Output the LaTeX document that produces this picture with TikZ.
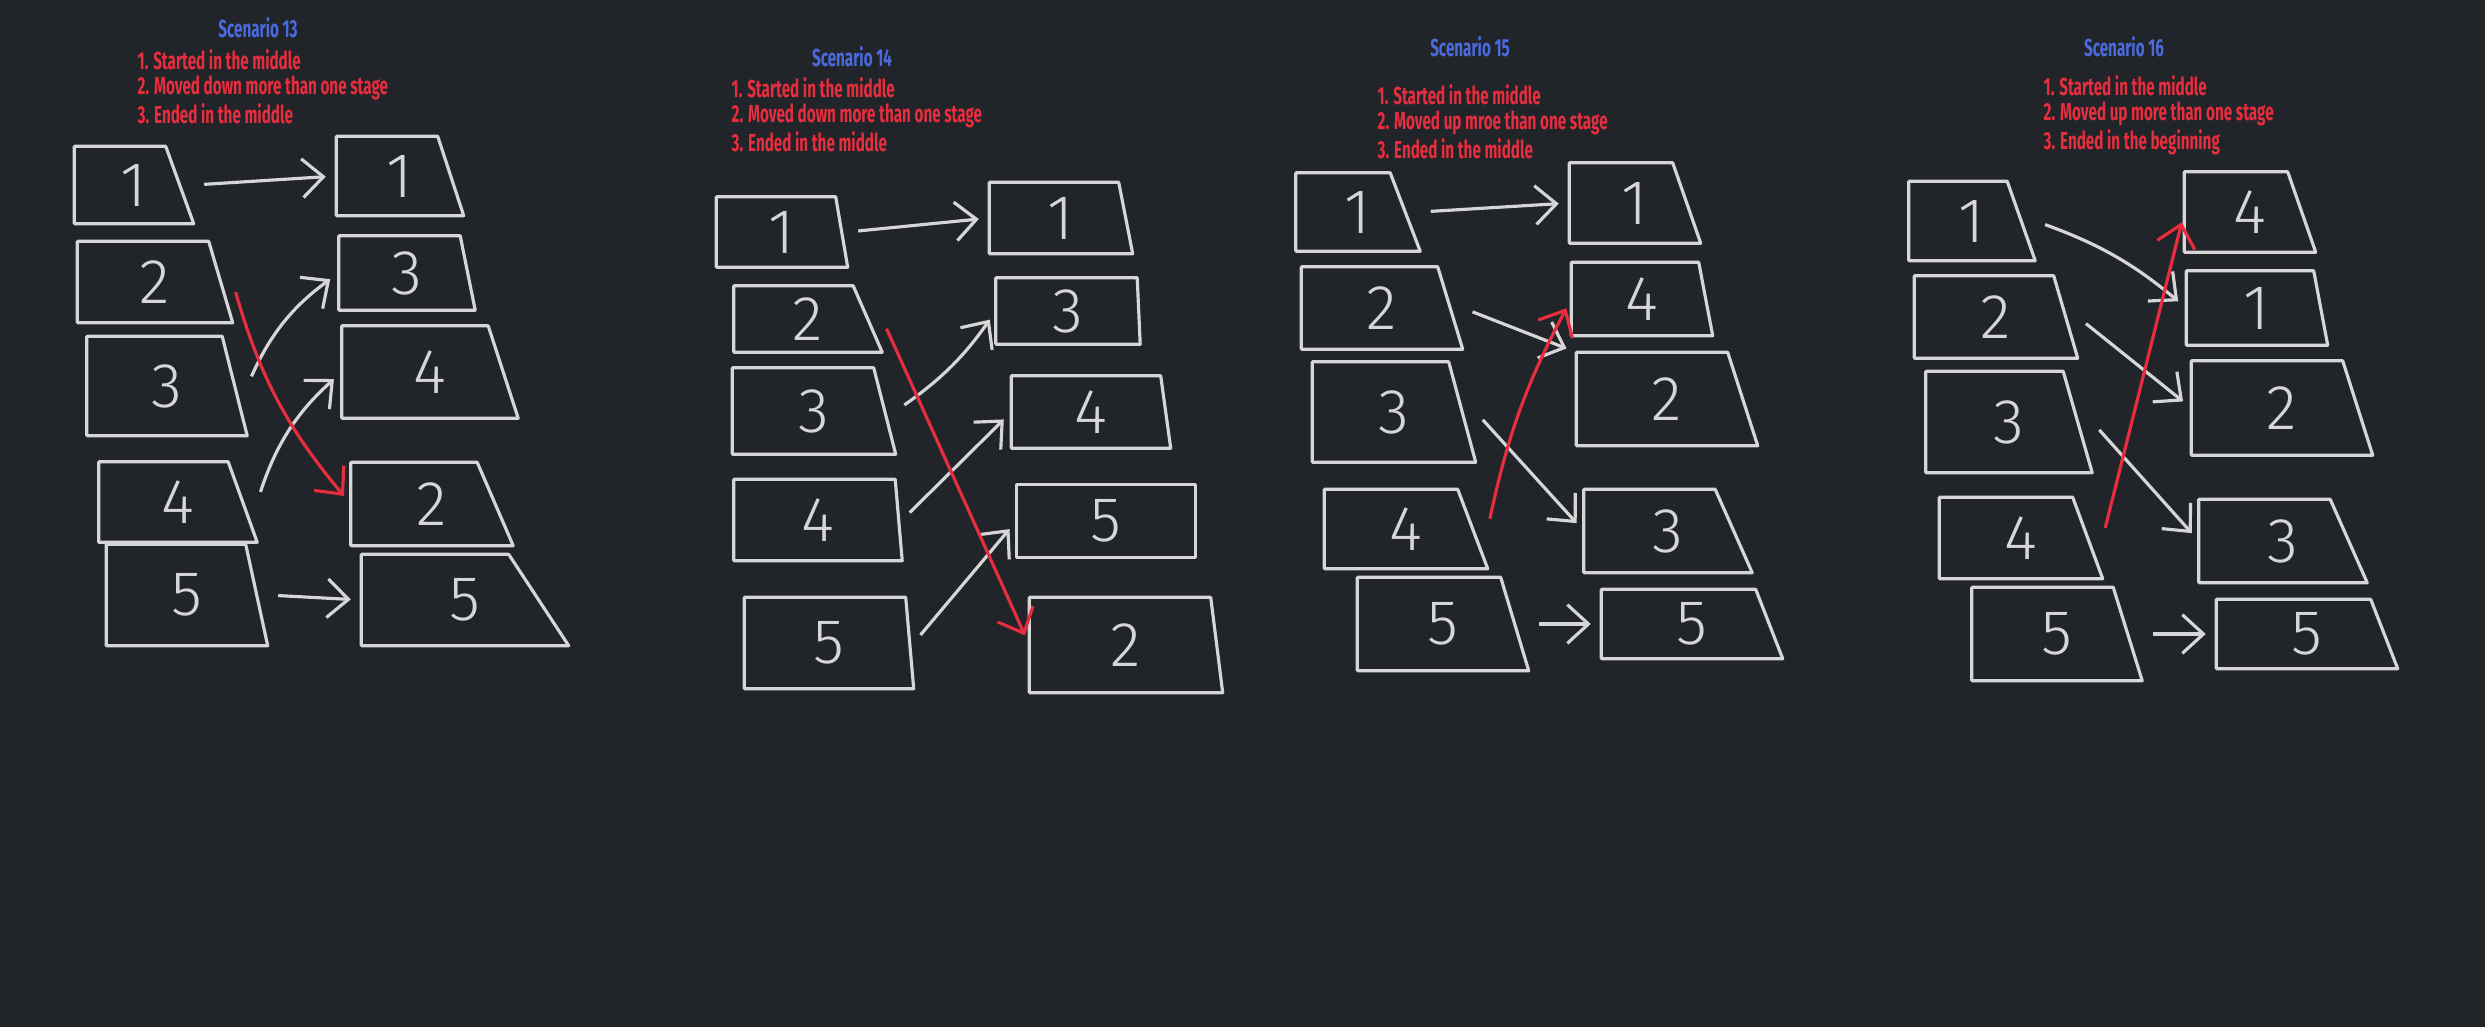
\documentclass[tikz,border=0pt]{standalone}
\usepackage{fontspec}
\setmainfont{Fira Sans}
\newfontfamily\handfont[FakeStretch=0.62]{Fira Sans}
\newfontfamily\digitfont{Fira Sans Light}
\usetikzlibrary{arrows.meta}
\definecolor{board}{RGB}{33,36,41}
\definecolor{chalk}{RGB}{214,214,214}
\definecolor{penred}{RGB}{230,46,62}
\definecolor{penblue}{RGB}{74,106,222}
\tikzset{
  box/.style={rectangle, inner sep=0pt, text=chalk,
              font=\digitfont\fontsize{18}{18}\selectfont},
  rim/.style={draw=chalk, line width=0.9pt, line join=round},
  move/.style={-{Straight Barb[length=6pt,width=11pt]}, draw=chalk,
               line width=0.9pt, shorten <=3pt, shorten >=3pt},
  jump/.style={move, draw=penred},
  title/.style={font=\handfont\bfseries\fontsize{7}{7.1}\selectfont,
                text=penblue, inner sep=0pt},
  notes/.style={anchor=west, align=left, inner sep=0pt,
                font=\handfont\bfseries\fontsize{7}{7.1}\selectfont, text=penred},
}

\begin{document}
\begin{tikzpicture}
    \fill[board] (0,0) rectangle (24.85,-10.27);

    \foreach \nm/\x/\y/\w/\h/\e/\d in {
      s13L1/1.34/-1.85/1.18/0.76/0.28/1, s13L2/1.55/-2.82/1.54/0.80/0.24/2,
      s13L3/1.67/-3.86/1.59/0.98/0.25/3, s13L4/1.78/-5.02/1.57/0.79/0.29/4,
      s13L5/1.87/-5.95/1.60/1.00/0.22/5,
      s13R1/4.00/-1.76/1.26/0.78/0.26/1, s13R3/4.07/-2.73/1.35/0.73/0.15/3,
      s13R4/4.30/-3.72/1.75/0.91/0.30/4, s13R2/4.32/-5.04/1.61/0.82/0.36/2,
      s13R5/4.65/-6.00/2.06/0.90/0.60/5,
      s14L1/7.82/-2.32/1.30/0.69/0.12/1, s14L2/8.08/-3.19/1.47/0.65/0.29/2,
      s14L3/8.14/-4.11/1.62/0.85/0.22/3, s14L4/8.18/-5.20/1.67/0.80/0.07/4,
      s14L5/8.29/-6.43/1.68/0.90/0.08/5,
      s14R1/10.61/-2.18/1.42/0.70/0.14/1, s14R3/10.68/-3.11/1.43/0.65/0.03/3,
      s14R4/10.91/-4.12/1.58/0.71/0.10/4, s14R5/11.06/-5.21/1.78/0.72/0.00/5,
      s14R2/11.26/-6.45/1.92/0.94/0.12/2,
      s15L1/13.58/-2.12/1.23/0.77/0.30/1, s15L2/13.82/-3.08/1.60/0.81/0.25/2,
      s15L3/13.94/-4.12/1.62/0.99/0.27/3, s15L4/14.06/-5.29/1.62/0.78/0.30/4,
      s15L5/14.43/-6.24/1.70/0.92/0.28/5,
      s15R1/16.35/-2.03/1.30/0.79/0.28/1, s15R4/16.42/-2.99/1.40/0.72/0.14/4,
      s15R2/16.67/-3.99/1.80/0.92/0.30/2, s15R3/16.68/-5.31/1.67/0.82/0.37/3,
      s15R5/16.92/-6.24/1.80/0.68/0.27/5,
      s16L1/19.72/-2.21/1.25/0.78/0.28/1, s16L2/19.96/-3.17/1.62/0.81/0.24/2,
      s16L3/20.09/-4.22/1.65/1.00/0.29/3, s16L4/20.21/-5.38/1.62/0.80/0.30/4,
      s16L5/20.57/-6.34/1.69/0.92/0.29/5,
      s16R4/22.50/-2.12/1.30/0.79/0.28/4, s16R1/22.57/-3.08/1.40/0.73/0.14/1,
      s16R2/22.82/-4.08/1.80/0.93/0.30/2, s16R3/22.83/-5.41/1.67/0.82/0.37/3,
      s16R5/23.07/-6.34/1.80/0.68/0.27/5}{
      \node[box, minimum width=\w cm, minimum height=\h cm] (\nm) at (\x,\y) {\d};
      \draw[rim] (\nm.north west) -- ([xshift=-\e cm]\nm.north east)
        -- (\nm.south east) -- (\nm.south west) -- cycle;
    }

    \node[title] (t13) at (2.58,-0.28) {Scenario 13};
    \node[notes] (n13) at (1.37,-0.87) {1. Started in the middle\\2. Moved down more than one stage\\3. Ended in the middle};
    \node[title] (t14) at (8.52,-0.57) {Scenario 14};
    \node[notes] (n14) at (7.31,-1.15) {1. Started in the middle\\2. Moved down more than one stage\\3. Ended in the middle};
    \node[title] (t15) at (14.70,-0.47) {Scenario 15};
    \node[notes] (n15) at (13.77,-1.22) {1. Started in the middle\\2. Moved up mroe than one stage\\3. Ended in the middle};
    \node[title] (t16) at (21.24,-0.47) {Scenario 16};
    \node[notes] (n16) at (20.43,-1.15) {1. Started in the middle\\2. Moved up more than one stage\\3. Ended in the beginning};

    \draw[move] (s13L1.east) -- (s13R1.west);
    \draw[move] (s13L3.east) to[bend left=15] (s13R3.west);
    \draw[move] (s13L4.east) to[bend left=15] (s13R4.west);
    \draw[move] (s13L5.east) -- (s13R5.west);
    \draw[jump] (s13L2.east) to[bend right=12] (s13R2.west);

    \draw[move] (s14L1.east) -- (s14R1.west);
    \draw[move] (s14L3.east) to[bend right=10] (s14R3.west);
    \draw[move] (s14L4.east) -- (s14R4.west);
    \draw[move] (s14L5.east) -- (s14R5.west);
    \draw[jump] (s14L2.east) -- (s14R2.west);

    \draw[move] (s15L1.east) -- (s15R1.west);
    \draw[move] (s15L2.east) -- (s15R2.north west);
    \draw[move] (s15L3.east) -- (s15R3.west);
    \draw[move] (s15L5.east) -- (s15R5.west);
    \draw[jump] (s15L4.east) to[bend left=8] (s15R4.west);

    \draw[move] (s16L1.east) to[bend left=10] (s16R1.west);
    \draw[move] (s16L2.east) -- (s16R2.west);
    \draw[move] (s16L3.east) -- (s16R3.west);
    \draw[move] (s16L5.east) -- (s16R5.west);
    \draw[jump] (s16L4.east) -- (s16R4.west);
\end{tikzpicture}
\end{document}
